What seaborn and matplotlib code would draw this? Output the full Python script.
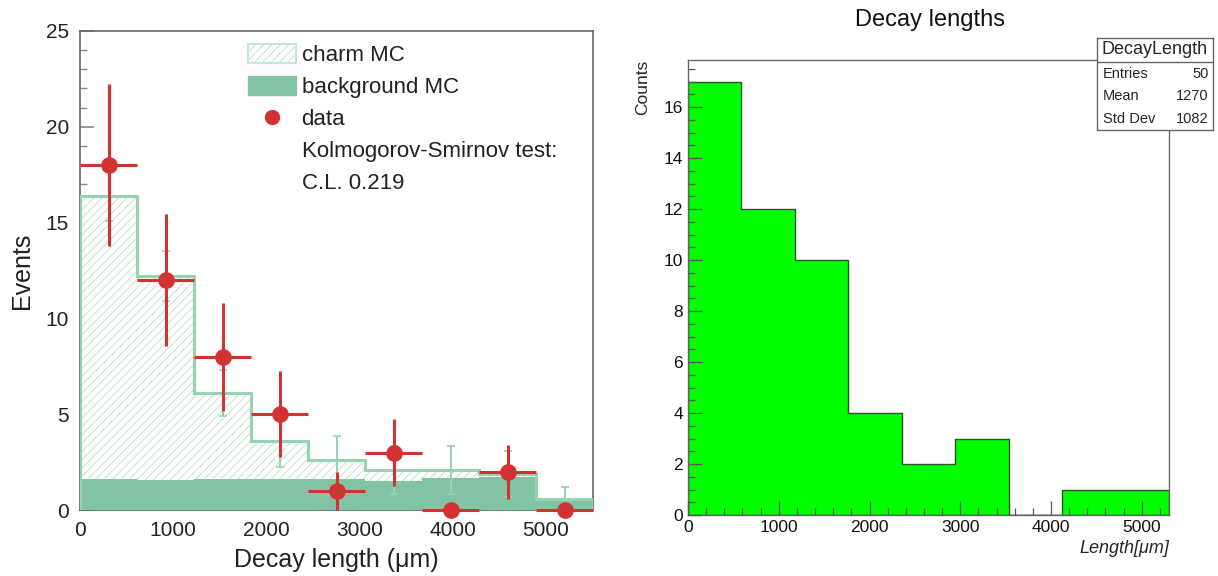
import numpy as np
import matplotlib.pyplot as plt
import seaborn as sns
from matplotlib.patches import Patch
from matplotlib.lines import Line2D
from matplotlib.ticker import MultipleLocator

# left panel: charm analysis, 9 bins of ~612 um
left_edges = [0, 612, 1224, 1836, 2448, 3060, 3672, 4284, 4896, 5508]
data_counts = [18, 12, 8, 5, 1, 3, 0, 2, 0]
charm_total = [16.4, 12.2, 6.1, 3.6, 2.6, 2.1, 2.1, 1.9, 0.6]
charm_err = [1.3, 1.3, 1.2, 1.35, 1.25, 1.25, 1.25, 1.2, 0.6]
background = [1.62, 1.58, 1.6, 1.62, 1.6, 1.53, 1.65, 1.7, 0.45]
ks_cl = "0.219"

# right panel: ROOT histogram
right_edges = [0, 589, 1178, 1767, 2356, 2944, 3533, 4122, 4711, 5300]
right_counts = [17, 12, 10, 4, 2, 3, 0, 1, 1]
stat_names = ["Entries", "Mean", "Std Dev"]
stat_values = ["50", "1270", "1082"]

sns.set_style("ticks")
plt.rcParams['font.family'] = ['Liberation Sans', 'DejaVu Sans']
plt.rcParams['hatch.linewidth'] = 0.8

fig = plt.figure(figsize=(12.18, 5.76), dpi=100)
ax1 = fig.add_axes([80/1218, 1-510/576, 513/1218, 479/576])
ax2 = fig.add_axes([688/1218, 1-515/576, 481/1218, 455/576])

bg_col = "#82c3a3"
line_col = "#95d3b3"
hatch_col = "#c6e5d3"
red = "#d23232"

# ---- left
lc = np.array(left_edges)
centers = (lc[:-1] + lc[1:]) / 2
half = (lc[1:] - lc[:-1]) / 2

ax1.stairs(charm_total, left_edges, fill=True, facecolor="white",
           edgecolor=hatch_col, hatch="////", linewidth=0, zorder=1)
sns.histplot(x=centers, weights=background, bins=left_edges, element="step",
             fill=True, color=bg_col, alpha=1, linewidth=0, ax=ax1, zorder=3)
ax1.stairs(charm_total, left_edges, color=line_col, linewidth=2.2, zorder=4)
ax1.errorbar(centers, charm_total, yerr=charm_err, fmt="none", ecolor=line_col,
             elinewidth=1.4, capsize=3, capthick=1.2, zorder=4)

dc = np.array(data_counts, dtype=float)
ax1.errorbar(centers, dc, xerr=half, yerr=np.sqrt(dc), fmt="o", color=red,
             markersize=11, elinewidth=2.2, capsize=0, zorder=6, clip_on=False)

ax1.set_xlim(0, 5508)
ax1.set_ylim(0, 25)
ax1.yaxis.set_major_locator(MultipleLocator(5))
ax1.yaxis.set_minor_locator(MultipleLocator(1))
ax1.xaxis.set_major_locator(MultipleLocator(1000))
ax1.tick_params(axis="y", which="major", direction="in", length=10, width=1.2,
                color="#888", labelsize=15, labelcolor="#222", pad=8)
ax1.tick_params(axis="y", which="minor", direction="in", length=5, width=1,
                color="#888")
ax1.tick_params(axis="x", which="major", direction="in", length=0,
                labelsize=15, labelcolor="#222", pad=8)
for s in ax1.spines.values():
    s.set_color("#666")
    s.set_linewidth(1.2)
ax1.set_xlabel("Decay length (μm)", fontsize=18, color="#222", labelpad=6)
ax1.set_ylabel("Events", fontsize=18, color="#222", labelpad=8)

handles = [
    Patch(facecolor="white", edgecolor=hatch_col, hatch="////", linewidth=1.5),
    Patch(facecolor=bg_col, edgecolor=bg_col),
    Line2D([], [], marker="o", color=red, linestyle="none", markersize=10),
    Line2D([], [], linestyle="none"),
    Line2D([], [], linestyle="none"),
]
labels = ["charm MC", "background MC", "data", "Kolmogorov-Smirnov test:",
          "C.L. " + ks_cl]
leg = ax1.legend(handles, labels, loc="upper left", bbox_to_anchor=(0.327, 0.972),
                 frameon=False, fontsize=16, handlelength=2.15, handleheight=0.9,
                 handletextpad=0.27, labelspacing=0.45, borderpad=0,
                 borderaxespad=0)
for t in leg.get_texts():
    t.set_color("#222")

# ---- right
rc = np.array(right_edges)
rcent = (rc[:-1] + rc[1:]) / 2
sns.histplot(x=rcent, weights=right_counts, bins=right_edges, element="step",
             fill=True, color="#00ff00", alpha=1, edgecolor="#2a552a",
             linewidth=1.0, ax=ax2)
ax2.set_axisbelow(False)
ax2.set_xlim(0, 5300)
ax2.set_ylim(0, 17.85)
ax2.xaxis.set_major_locator(MultipleLocator(1000))
ax2.xaxis.set_minor_locator(MultipleLocator(200))
ax2.yaxis.set_major_locator(MultipleLocator(2))
ax2.yaxis.set_minor_locator(MultipleLocator(0.5))
ax2.tick_params(which="major", direction="in", length=10, width=0.9,
                color="#555", labelsize=12.5, labelcolor="#111")
ax2.tick_params(which="minor", direction="in", length=5, width=0.9, color="#555")
for s in ax2.spines.values():
    s.set_color("#666")
    s.set_linewidth(1.0)
ax2.set_xlabel("Length[μm]", fontsize=13, style="italic", loc="right",
               labelpad=4)
ax2.set_ylabel("Counts", fontsize=12.5, loc="top", labelpad=10)
fig.text(930/1218, 1-20/576, "Decay lengths", ha="center", va="center",
         fontsize=17, color="#111")

# stats box
sb = fig.add_axes([1097/1218, 1-130/576, 116/1218, 92/576])
sb.set_xlim(0, 1)
sb.set_ylim(0, 1)
sb.set_xticks([])
sb.set_yticks([])
sb.set_facecolor("white")
for s in sb.spines.values():
    s.set_color("#666")
    s.set_linewidth(1.0)
sb.axhline(0.735, color="#666", linewidth=1.0)
sb.text(0.5, 0.87, "DecayLength", ha="center", va="center", fontsize=13)
for i, (n, v) in enumerate(zip(stat_names, stat_values)):
    y = 0.61 - i * 0.245
    sb.text(0.05, y, n, ha="left", va="center", fontsize=10.5)
    sb.text(0.96, y, v, ha="right", va="center", fontsize=10.5)

fig.savefig("out.png", dpi=100)
